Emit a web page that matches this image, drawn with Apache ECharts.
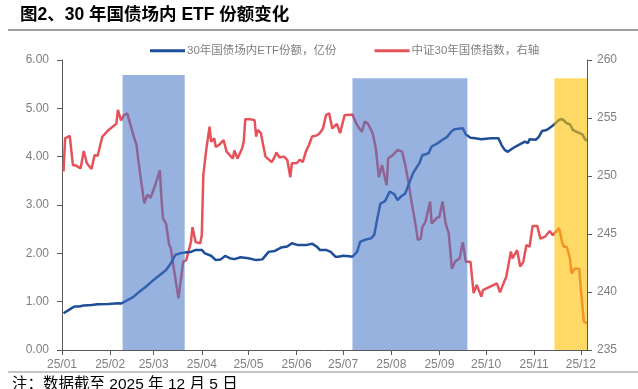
<!DOCTYPE html>
<html>
<head>
<meta charset="utf-8">
<script src="https://cdn.jsdelivr.net/npm/echarts@6/dist/echarts.min.js"></script>
<style>
html,body{margin:0;padding:0;background:#fff;}
#chart{width:638px;height:389px;}
</style>
</head>
<body>
<div id="chart"></div>
<script>
// ---- Data ----
const titleText = '图2、30 年国债场内 ETF 份额变化';
const seriesNames = ['30年国债场内ETF份额，亿份', '中证30年国债指数，右轴'];
const footnote = '注：数据截至 2025 年 12 月 5 日';

const etfDates = ['01-02','01-03','01-07','01-09','01-12','01-15','01-20','01-24','01-31','02-06','02-08','02-11','02-16','02-20','02-24','03-01','03-05','03-09','03-12','03-15','03-18','03-22','03-25','03-28','04-01','04-03','04-07','04-10','04-13','04-16','04-19','04-22','04-26','05-01','05-06','05-10','05-14','05-18','05-22','05-26','05-29','06-02','06-07','06-11','06-14','06-16','06-20','06-23','06-26','06-28','07-01','07-05','07-07','07-10','07-12','07-15','07-19','07-21','07-23','07-25','07-28','07-31','08-03','08-05','08-07','08-10','08-12','08-15','08-19','08-21','08-25','08-27','08-31','09-03','09-06','09-09','09-11','09-16','09-18','09-21','09-24','09-25','09-28','10-04','10-09','10-11','10-13','10-15','10-18','10-20','10-23','10-26','10-28','10-29','11-02','11-04','11-06','11-09','11-12','11-14','11-17','11-19','11-22','11-24','11-26','11-28','12-02','12-04','12-05'];
const etfValues = [0.76,0.79,0.86,0.90,0.90,0.92,0.93,0.945,0.95,0.965,0.96,1.01,1.10,1.21,1.31,1.45,1.55,1.655,1.79,1.97,2.00,2.02,2.03,2.07,2.07,2.00,1.95,1.86,1.87,1.945,1.90,1.88,1.92,1.90,1.86,1.875,2.03,2.05,2.12,2.14,2.21,2.17,2.17,2.20,2.14,2.07,2.07,2.03,1.93,1.93,1.95,1.94,1.93,2.03,2.24,2.28,2.31,2.38,2.72,3.03,3.08,3.28,3.22,3.10,3.17,3.24,3.41,3.66,3.86,4.03,4.07,4.21,4.28,4.35,4.41,4.53,4.57,4.59,4.46,4.39,4.38,4.39,4.36,4.38,4.38,4.24,4.14,4.10,4.17,4.21,4.26,4.31,4.28,4.36,4.35,4.41,4.53,4.55,4.62,4.67,4.76,4.78,4.69,4.67,4.55,4.52,4.46,4.35,4.33];

const indexDates = ['01-02','01-03','01-06','01-08','01-10','01-13','01-15','01-17','01-20','01-22','01-24','01-27','01-31','02-05','02-06','02-08','02-10','02-12','02-16','02-18','02-19','02-21','02-23','02-25','02-27','03-02','03-05','03-06','03-07','03-09','03-11','03-12','03-14','03-17','03-18','03-20','03-22','03-23','03-25','03-26','03-28','03-31','04-01','04-02','04-04','04-06','04-07','04-09','04-10','04-12','04-15','04-17','04-19','04-21','04-22','04-24','04-27','04-28','04-29','05-02','05-05','05-06','05-07','05-09','05-12','05-13','05-16','05-18','05-19','05-21','05-24','05-26','05-28','05-29','06-01','06-03','06-05','06-07','06-09','06-11','06-14','06-16','06-18','06-20','06-22','06-24','06-27','06-29','07-02','07-04','07-07','07-08','07-10','07-13','07-15','07-17','07-20','07-22','07-24','07-26','07-29','07-30','08-02','08-05','08-08','08-10','08-12','08-14','08-17','08-18','08-20','08-21','08-23','08-26','08-27','08-30','09-01','09-03','09-05','09-07','09-09','09-11','09-14','09-16','09-18','09-21','09-23','09-25','09-28','09-29','10-08','10-10','10-13','10-14','10-17','10-18','10-21','10-23','10-25','10-27','10-29','10-31','11-03','11-05','11-08','11-11','11-13','11-17','11-19','11-20','11-22','11-24','11-25','11-27','11-30','12-01','12-03','12-05'];
const indexValues = [250.4,253.25,253.45,250.95,250.9,250.66,252.15,251.1,250.6,251.8,251.75,253.4,253.97,254.5,255.7,254.8,255.26,255.4,253.5,252.67,251.5,249.5,247.65,248.4,248.1,249.2,250.5,248.1,246.35,245.9,244.05,243.8,242.0,239.45,239.3,242.6,242.75,242.9,244.3,245.6,244.3,244.2,244.9,250.1,252.4,254.25,252.95,253.25,252.5,252.67,253.1,252.1,251.8,251.5,252.2,251.5,252.4,252.95,254.9,254.9,254.8,253.4,253.97,253.7,251.67,251.5,251.2,251.67,252.04,251.6,251.67,251.4,249.9,251.1,251.1,251.4,251.2,252.1,252.67,253.4,253.5,253.7,254.1,255.26,255.4,254.1,254.5,253.7,255.26,255.26,255.3,254.97,254.4,253.8,254.7,254.5,253.7,252.4,249.9,250.95,249.2,251.5,251.8,252.24,252.1,250.95,249.5,247.8,245.5,244.5,244.6,245.6,246.05,247.8,245.9,246.35,246.5,247.8,245.9,245.05,242.0,242.6,242.9,244.3,242.6,242.6,239.9,240.6,239.6,240.17,240.75,239.97,241.0,241.3,243.5,242.9,243.6,242.2,242.6,244.05,243.9,245.7,245.7,244.6,244.77,245.26,244.9,245.5,244.3,243.9,243.9,242.9,241.6,242.0,242.0,240.3,237.45,237.3];

// shaded periods: [start, end, top (left-axis units)]
const blueShadeStarts = ['02-09','07-07'];
const blueShadeEnds = ['03-21','09-19'];
const blueShadeTops = [5.69, 5.62];
const yellowShadeStart = '11-14';
const yellowShadeEnd = '12-05';
const yellowShadeTop = 5.62;

const xMin = '01-01', xMax = '12-05';
const leftMin = 0, leftMax = 6, leftStep = 1;
const rightMin = 235, rightMax = 260, rightStep = 5;
const year = 2025;

// ---- Build ----
function t(md){ const [m,d] = md.split('-').map(Number); return new Date(year, m-1, d).getTime(); }
const etfData = etfDates.map((d,i)=>[t(d), etfValues[i]]);
const indexData = indexDates.map((d,i)=>[t(d), indexValues[i]]);

const shadeAreas = [];
blueShadeStarts.forEach((s,i)=>{
  shadeAreas.push([{xAxis: t(s), yAxis: blueShadeTops[i], itemStyle:{color:'rgba(68,114,196,0.55)'}},{xAxis: t(blueShadeEnds[i]), yAxis: leftMin}]);
});
shadeAreas.push([{xAxis: t(yellowShadeStart), yAxis: yellowShadeTop, itemStyle:{color:'rgba(255,192,0,0.6)'}},{xAxis: t(yellowShadeEnd), yAxis: leftMin}]);

const FONT = '"Liberation Sans", Arial, "Noto Sans CJK SC", sans-serif';
const CJK = '"Liberation Sans", "Noto Sans CJK SC", sans-serif';
const axisGrey = '#7f7f7f';
const lineGrey = '#595959';

const chart = echarts.init(document.getElementById('chart'), null, {renderer:'canvas'});
chart.setOption({
  backgroundColor: '#fff',
  animation: false,
  title: {
    text: titleText, left: 20, top: 6, padding: 0,
    textStyle: {fontSize: 17.5, fontWeight: 'bold', color: '#000', fontFamily: CJK}
  },
  legend: {
    data: seriesNames, left: 145, top: 40, itemGap: 38,
    itemWidth: 35, itemHeight: 3, icon: 'rect',
    textStyle: {fontSize: 11.5, color: axisGrey, fontFamily: CJK, padding: [0,0,0,-3]}
  },
  grid: {left: 62, right: 51, top: 60, bottom: 39, containLabel: false},
  xAxis: {
    type: 'time', min: t(xMin), max: t(xMax),
    splitNumber: 12, minInterval: 28*86400000, maxInterval: 31*86400000,
    axisLine: {show: true, lineStyle: {color: lineGrey, width: 1}},
    axisTick: {show: true, length: 5, lineStyle: {color: lineGrey}},
    splitLine: {show: false},
    axisLabel: {
      color: axisGrey, fontSize: 12, fontFamily: FONT, margin: 9, hideOverlap: false,
      showMinLabel: true, showMaxLabel: false,
      formatter: function(v){ const d = new Date(v); if (d.getDate() !== 1) return ''; return String(d.getFullYear()).slice(2) + '/' + String(d.getMonth()+1).padStart(2,'0'); }
    }
  },
  yAxis: [{
    type: 'value', min: leftMin, max: leftMax, interval: leftStep, position: 'left',
    axisLine: {show: true, lineStyle: {color: lineGrey, width: 1}},
    axisTick: {show: true, length: 5, lineStyle: {color: lineGrey}},
    splitLine: {show: false},
    axisLabel: {color: axisGrey, fontSize: 12, fontFamily: FONT, margin: 13, formatter: v => v.toFixed(2)}
  },{
    type: 'value', min: rightMin, max: rightMax, interval: rightStep, position: 'right',
    axisLine: {show: true, lineStyle: {color: lineGrey, width: 1}},
    axisTick: {show: true, length: 5, lineStyle: {color: lineGrey}},
    splitLine: {show: false},
    axisLabel: {color: axisGrey, fontSize: 12, fontFamily: FONT, margin: 10}
  }],
  series: [{
    name: seriesNames[0], type: 'line', yAxisIndex: 0, data: etfData,
    showSymbol: false, symbol: 'none', z: 3,
    lineStyle: {color: '#1f4e99', width: 2.5}, itemStyle: {color: '#1f4e99'}
  },{
    name: seriesNames[1], type: 'line', yAxisIndex: 1, data: indexData,
    showSymbol: false, symbol: 'none', z: 2,
    lineStyle: {color: '#e6525a', width: 2.5}, itemStyle: {color: '#e6525a'}
  },{
    name: 'shade', type: 'line', yAxisIndex: 0, data: [], silent: true, z: 10,
    markArea: {silent: true, z: 10, data: shadeAreas}
  }],
  graphic: [
    {type: 'line', shape: {x1: 8, y1: 30, x2: 638, y2: 30}, style: {stroke: '#404040', lineWidth: 1.2}},
    {type: 'line', shape: {x1: 8, y1: 372, x2: 638, y2: 372}, style: {stroke: '#8c8c8c', lineWidth: 1}},
    {type: 'text', left: 12, top: 377, style: {text: footnote, fontSize: 15.5, fill: '#000', fontFamily: CJK}}
  ]
});
</script>
</body>
</html>
